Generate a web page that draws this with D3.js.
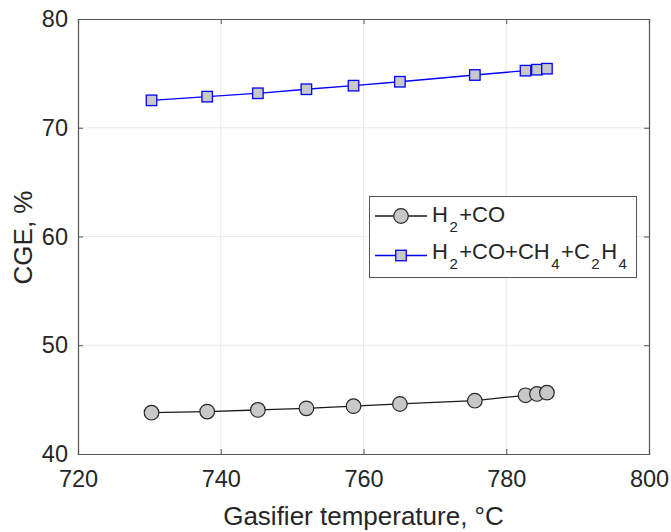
<!DOCTYPE html>
<html><head><meta charset="utf-8">
<script src="https://cdn.jsdelivr.net/npm/d3@7"></script>
<style>body{margin:0;background:#fff}svg{display:block}text{font-family:"Liberation Sans",Arial,Helvetica,sans-serif;fill:#262626}</style>
</head><body>
<svg id="c" width="671" height="532"></svg>
<script>
const temps = [730.3, 738.1, 745.2, 752.0, 758.6, 765.1, 775.6, 782.7, 784.3, 785.7];
const cgeH2CO = [43.8, 43.9, 44.05, 44.2, 44.4, 44.6, 44.9, 45.4, 45.52, 45.64];
const cgeAll = [72.52, 72.86, 73.17, 73.54, 73.87, 74.23, 74.85, 75.25, 75.34, 75.43];
const xTicks = [720, 740, 760, 780, 800];
const yTicks = [40, 50, 60, 70, 80];

const svg = d3.select("#c");
const L = 78, R = 649, T = 19, B = 454;
const x = d3.scaleLinear().domain([720, 800]).range([L, R]);
const y = d3.scaleLinear().domain([40, 80]).range([B, T]);

// grid
svg.append("g").selectAll("line").data(xTicks.slice(1, -1)).join("line")
  .attr("x1", d => x(d)).attr("x2", d => x(d)).attr("y1", T).attr("y2", B)
  .attr("stroke", "#ebebeb").attr("stroke-width", 1);
svg.append("g").selectAll("line").data(yTicks.slice(1, -1)).join("line")
  .attr("y1", d => y(d)).attr("y2", d => y(d)).attr("x1", L).attr("x2", R)
  .attr("stroke", "#ebebeb").attr("stroke-width", 1);

// axes
const fs = 23.5, fl = 26;
svg.append("g").attr("transform", `translate(0,${B})`)
  .call(d3.axisBottom(x).tickValues(xTicks).tickSize(-5).tickPadding(16).tickFormat(d3.format("d")));
svg.append("g").attr("transform", `translate(${L},0)`)
  .call(d3.axisLeft(y).tickValues(yTicks).tickSize(-5).tickPadding(10).tickFormat(d3.format("d")));
svg.append("g").attr("transform", `translate(0,${T})`)
  .call(d3.axisTop(x).tickValues(xTicks).tickSize(-5).tickFormat(""));
svg.append("g").attr("transform", `translate(${R},0)`)
  .call(d3.axisRight(y).tickValues(yTicks).tickSize(-5).tickFormat(""));
svg.selectAll(".domain").attr("stroke", "#555").attr("stroke-width", 1.2);
svg.selectAll(".tick line").attr("stroke", "#555");
svg.selectAll(".tick text").attr("font-size", fs).style("font-family", '"Liberation Sans",Arial,sans-serif').attr("fill", "#262626");

// titles
svg.append("text").attr("x", (L + R) / 2).attr("y", 525).attr("text-anchor", "middle")
  .attr("font-size", fl).text("Gasifier temperature, °C");
svg.append("text").attr("transform", `translate(32,${(T + B) / 2 + 1}) rotate(-90)`).attr("text-anchor", "middle")
  .attr("font-size", fl).text("CGE, %");

// series
const line = d3.line().x(d => x(d[0])).y(d => y(d[1]));
const s1 = temps.map((t, i) => [t, cgeH2CO[i]]);
const s2 = temps.map((t, i) => [t, cgeAll[i]]);
svg.append("path").attr("d", line(s1)).attr("fill", "none").attr("stroke", "#1a1a1a").attr("stroke-width", 1.3);
svg.append("path").attr("d", line(s2)).attr("fill", "none").attr("stroke", "#0000ff").attr("stroke-width", 1.3);
svg.append("g").selectAll("circle").data(s1).join("circle")
  .attr("cx", d => x(d[0])).attr("cy", d => y(d[1])).attr("r", 7.3)
  .attr("fill", "#c8c8c8").attr("stroke", "#262626").attr("stroke-width", 1.2);
const sq = 10.5;
svg.append("g").selectAll("rect").data(s2).join("rect")
  .attr("x", d => x(d[0]) - sq / 2).attr("y", d => y(d[1]) - sq / 2).attr("width", sq).attr("height", sq)
  .attr("fill", "#c8c8c8").attr("stroke", "#0000ff").attr("stroke-width", 1.3);

// legend
const lg = svg.append("g");
lg.append("rect").attr("x", 369.5).attr("y", 196.5).attr("width", 267).attr("height", 81)
  .attr("fill", "#fff").attr("stroke", "#555").attr("stroke-width", 1);
const ly1 = 216, ly2 = 255.5;
lg.append("line").attr("x1", 375).attr("x2", 427).attr("y1", ly1).attr("y2", ly1).attr("stroke", "#1a1a1a").attr("stroke-width", 1.3);
lg.append("circle").attr("cx", 401).attr("cy", ly1).attr("r", 7.3).attr("fill", "#c8c8c8").attr("stroke", "#262626").attr("stroke-width", 1.2);
lg.append("line").attr("x1", 375).attr("x2", 427).attr("y1", ly2).attr("y2", ly2).attr("stroke", "#0000ff").attr("stroke-width", 1.3);
lg.append("rect").attr("x", 401 - sq / 2).attr("y", ly2 - sq / 2).attr("width", sq).attr("height", sq).attr("fill", "#c8c8c8").attr("stroke", "#0000ff").attr("stroke-width", 1.3);

function chem(g, xx, yy, parts) {
  const t = g.append("text").attr("x", xx).attr("y", yy).attr("font-size", 22);
  parts.forEach(p => {
    if (p.sub) {
      t.append("tspan").attr("font-size", 15).attr("dx", 1.5).attr("dy", 10).text(p.sub);
    } else {
      t.append("tspan").attr("dx", p.after ? 1.5 : 0).attr("dy", p.after ? -10 : 0).text(p.t);
    }
  });
}
chem(lg, 432, 222, [{t: "H"}, {sub: "2"}, {t: "+CO", after: true}]);
chem(lg, 432, 259, [{t: "H"}, {sub: "2"}, {t: "+CO+CH", after: true}, {sub: "4"}, {t: "+C", after: true}, {sub: "2"}, {t: "H", after: true}, {sub: "4"}]);
</script>
</body></html>
